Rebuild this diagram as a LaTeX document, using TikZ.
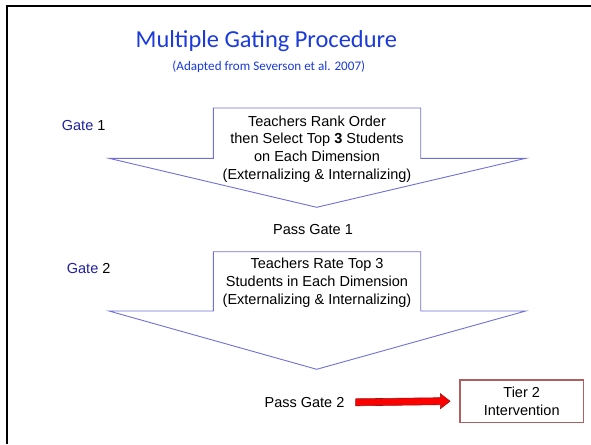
\documentclass[tikz,border=0pt]{standalone}
\usepackage{fontspec}
\setmainfont{Liberation Sans}
\newfontfamily\titlefont{Carlito}
\usetikzlibrary{calc}
\definecolor{titleblue}{RGB}{26,58,219}
\definecolor{gateblue}{RGB}{32,32,160}
\definecolor{outlineblue}{RGB}{112,112,214}
\definecolor{boxred}{RGB}{176,96,96}
\definecolor{arrowred}{RGB}{255,0,0}
\definecolor{arrowedge}{RGB}{150,20,20}
\tikzset{
  body/.style={font=\fontsize{14.5}{17.8}\selectfont, inner sep=0pt, align=center},
  gatelabel/.style={font=\fontsize{14.5}{17.8}\selectfont, inner sep=0pt, anchor=west},
  blockarrow/.style={draw=outlineblue, line width=0.9pt, fill=white, line join=miter},
  tierbox/.style={draw=boxred, line width=1.2pt, minimum width=123.5pt, minimum height=42.5pt,
    inner sep=0pt, align=center, font=\fontsize{14.5}{18.3}\selectfont},
  frameline/.style={line width=2.5pt, black}
}
\begin{document}
\begin{tikzpicture}[x=1pt, y=-1pt]
\useasboundingbox (0,0) rectangle (591,444);
% slide frame (top and left edges)
\draw[frameline] (591,6) -- (7,6) -- (7,444);

% title
\node[font=\titlefont\fontsize{24.4}{28}\selectfont, text=titleblue, inner sep=0pt] (title) at (266.3,41.5) {Multiple Gating Procedure};
\node[font=\titlefont\fontsize{13.1}{16}\selectfont, text=titleblue, inner sep=0pt] (subtitle) at (268.8,66.7) {(Adapted from Severson et al. 2007)};

% gate 1 block arrow
\draw[blockarrow] (213.3,108) -- (420.7,108) -- (420.7,158.3) -- (525.7,158.3)
  -- (316.7,207.3) -- (109,158.3) -- (213.3,158.3) -- cycle;
\node[body] (g1text) at (317,149) {Teachers Rank Order\\then Select Top \textbf{3} Students\\on Each Dimension\\(Externalizing \& Internalizing)};
\node[gatelabel] (gate1) at (61.7,126) {\textcolor{gateblue}{Gate} 1};

\node[body] (pass1) at (313,230) {Pass Gate 1};

% gate 2 block arrow
\draw[blockarrow] (213.3,251.7) -- (420.7,251.7) -- (420.7,311) -- (525.7,311)
  -- (316.7,369.3) -- (109,311) -- (213.3,311) -- cycle;
\node[body] (g2text) at (317,282.5) {Teachers Rate Top 3\\Students in Each Dimension\\(Externalizing \& Internalizing)};
\node[gatelabel] (gate2) at (66.7,269) {\textcolor{gateblue}{Gate} 2};

% outcome
\node[body] (pass2) at (304.5,402.3) {Pass Gate 2};
\node[tierbox] (tier) at (521.7,401.2) {Tier 2\\Intervention};

% red block arrow from pass2 to tier
\coordinate (ra) at ($(pass2.east)+(11,0)$);
\coordinate (rb) at ($(tier.west)+(-9.3,0)$);
\draw[fill=arrowred, draw=arrowedge, line width=0.6pt, line join=miter]
  ($(ra)+(0,-3.5)$) -- ($(rb)+(-9.7,-3.5)$) -- ($(rb)+(-9.7,-7.5)$) -- (rb)
  -- ($(rb)+(-9.7,7.5)$) -- ($(rb)+(-9.7,3.5)$) -- ($(ra)+(0,3.5)$) -- cycle;
\end{tikzpicture}
\end{document}
